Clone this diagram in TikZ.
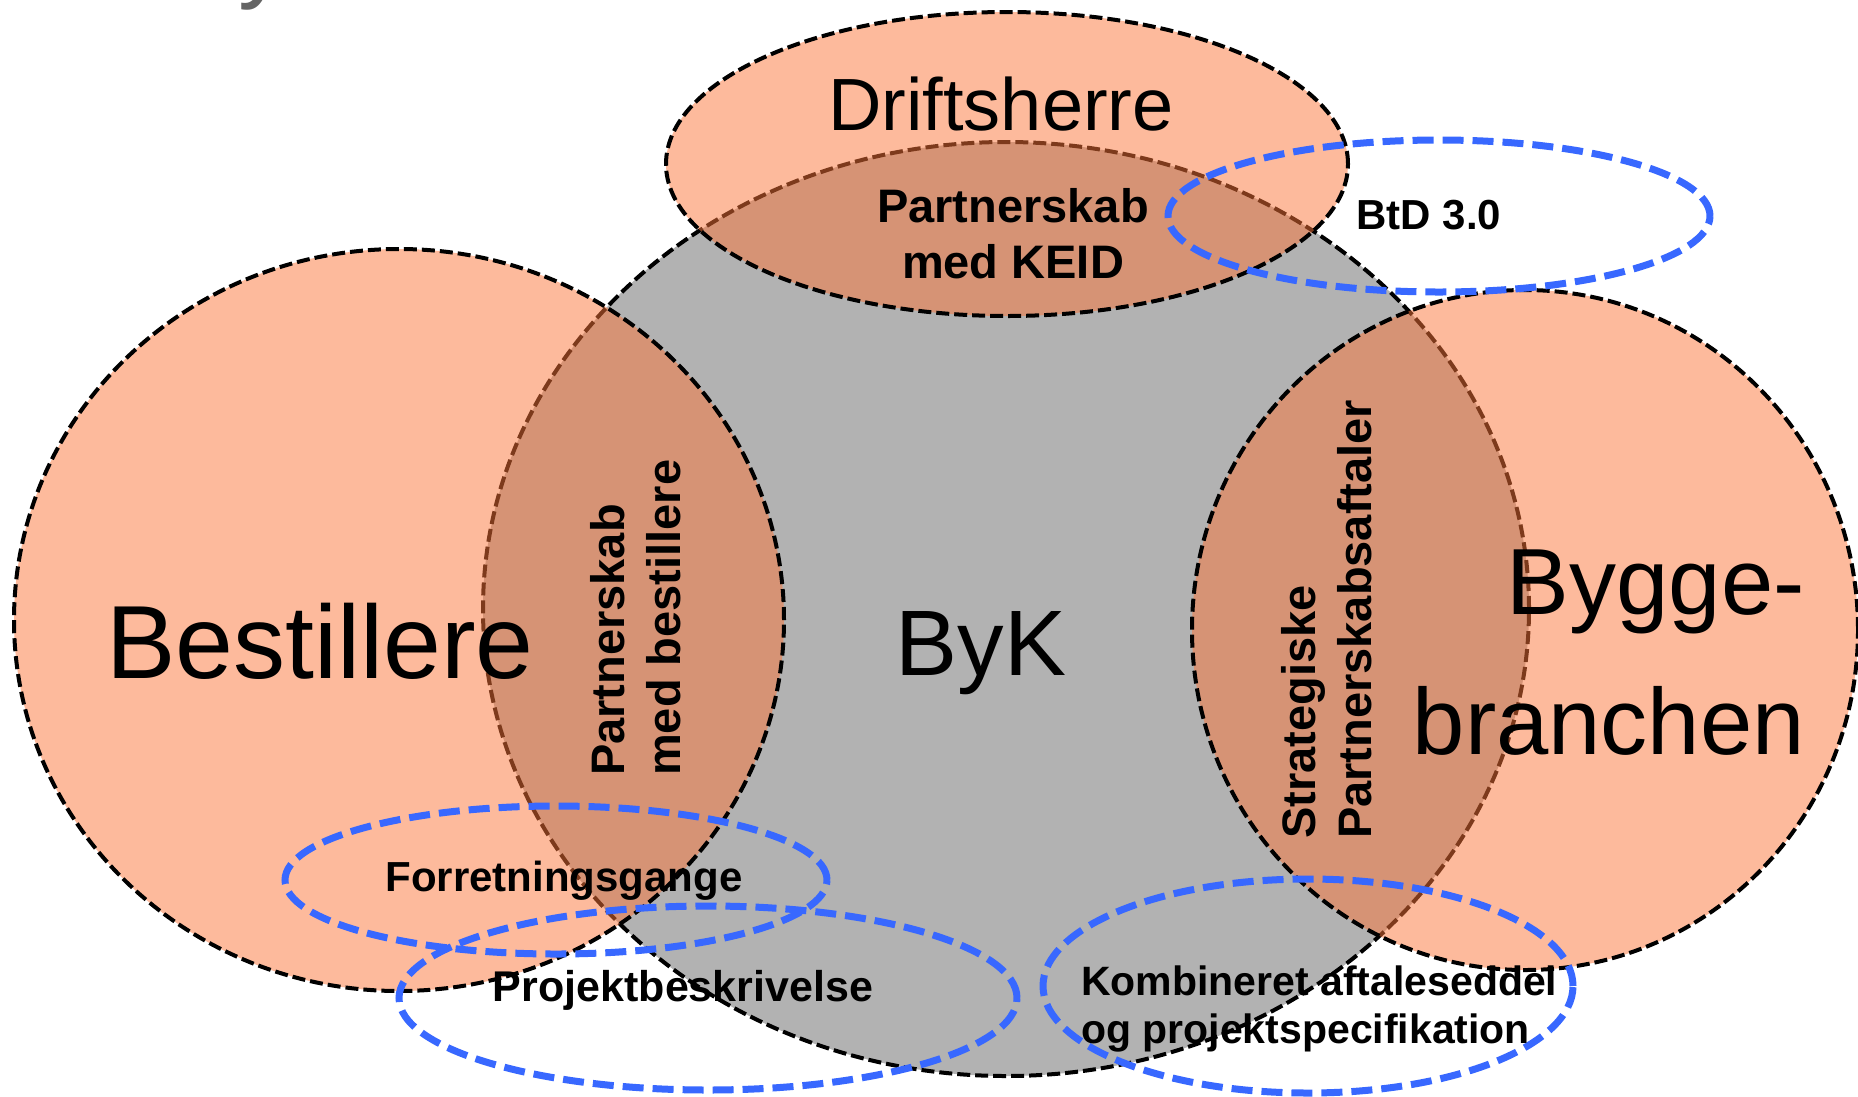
\documentclass[tikz,border=0pt]{standalone}
\usepackage{fontspec}
\setmainfont{Liberation Sans}
\definecolor{bykgraa}{RGB}{178,178,178}
\definecolor{laks}{RGB}{251,117,57}
\definecolor{blaa}{RGB}{56,104,255}
\definecolor{titelgraa}{RGB}{100,100,100}
\tikzset{
  felt/.style={draw=black, line width=4pt, dash pattern=on 13pt off 5pt},
  laksfelt/.style={felt, fill=laks, fill opacity=0.5},
  blaafelt/.style={draw=blaa, line width=7pt, dash pattern=on 21pt off 9pt},
  navn/.style 2 args={inner sep=0pt, font=\fontsize{#1}{#2}\selectfont},
  fed/.style 2 args={inner sep=0pt, font=\bfseries\fontsize{#1}{#2}\selectfont}
}

\begin{document}
\begin{tikzpicture}[x=1pt, y=-1pt]
    \useasboundingbox (0,0) rectangle (1858,1096);
    % rest af titlen
    \node[navn={100}{100}, anchor=base west, text=titelgraa] (titel) at (238,-11) {y};
    % ByK i midten
    \draw[felt, fill=bykgraa] (1006,609) ellipse [x radius=523pt, y radius=467pt];
    % de tre parter
    \draw[laksfelt] (399,620) ellipse [x radius=385pt, y radius=371pt];
    \draw[laksfelt] (1007,164) ellipse [x radius=341pt, y radius=152pt];
    \draw[laksfelt] (1525,630) ellipse [x radius=333pt, y radius=340pt];
    % blaa felter
    \draw[blaafelt] (1439,216) ellipse [x radius=271pt, y radius=76pt];
    \draw[blaafelt] (556,880) ellipse [x radius=271pt, y radius=74pt];
    \draw[blaafelt] (708,998) ellipse [x radius=309pt, y radius=92pt];
    \draw[blaafelt] (1308,986) ellipse [x radius=265pt, y radius=107pt];
    % tekster (base = sidste linjes grundlinje)
    \node[navn={74}{80}, anchor=base] (drift) at (1001,130) {Driftsherre};
    \node[navn={104}{110}, anchor=base] (best) at (320,678) {Bestillere};
    \node[navn={93}{100}, anchor=base] (byk) at (981,675) {ByK};
    \node[navn={94}{140}, anchor=base east, align=right] (bygge) at (1805,754) {Bygge-\\branchen};
    \node[fed={47}{56}, anchor=base, align=center] (keid) at (1013,278) {Partnerskab\\med KEID};
    \node[fed={47}{56}, anchor=west, align=left, rotate=90] (pbest) at (636,776) {Partnerskab\\med bestillere};
    \node[fed={47}{56}, anchor=west, align=left, rotate=90] (strat) at (1327,839) {Strategiske\\Partnerskabsaftaler};
    \node[fed={42}{46}, anchor=base] (btd) at (1429,229) {BtD 3.0};
    \node[fed={42}{46}, anchor=base] (forr) at (564,891) {Forretningsgange};
    \node[fed={43}{46}, anchor=base] (proj) at (683,1001) {Projektbeskrivelse};
    \node[fed={41}{48}, anchor=base west, align=left] (komb) at (1081,1043) {Kombineret aftaleseddel\\og projektspecifikation};
\end{tikzpicture}
\end{document}
